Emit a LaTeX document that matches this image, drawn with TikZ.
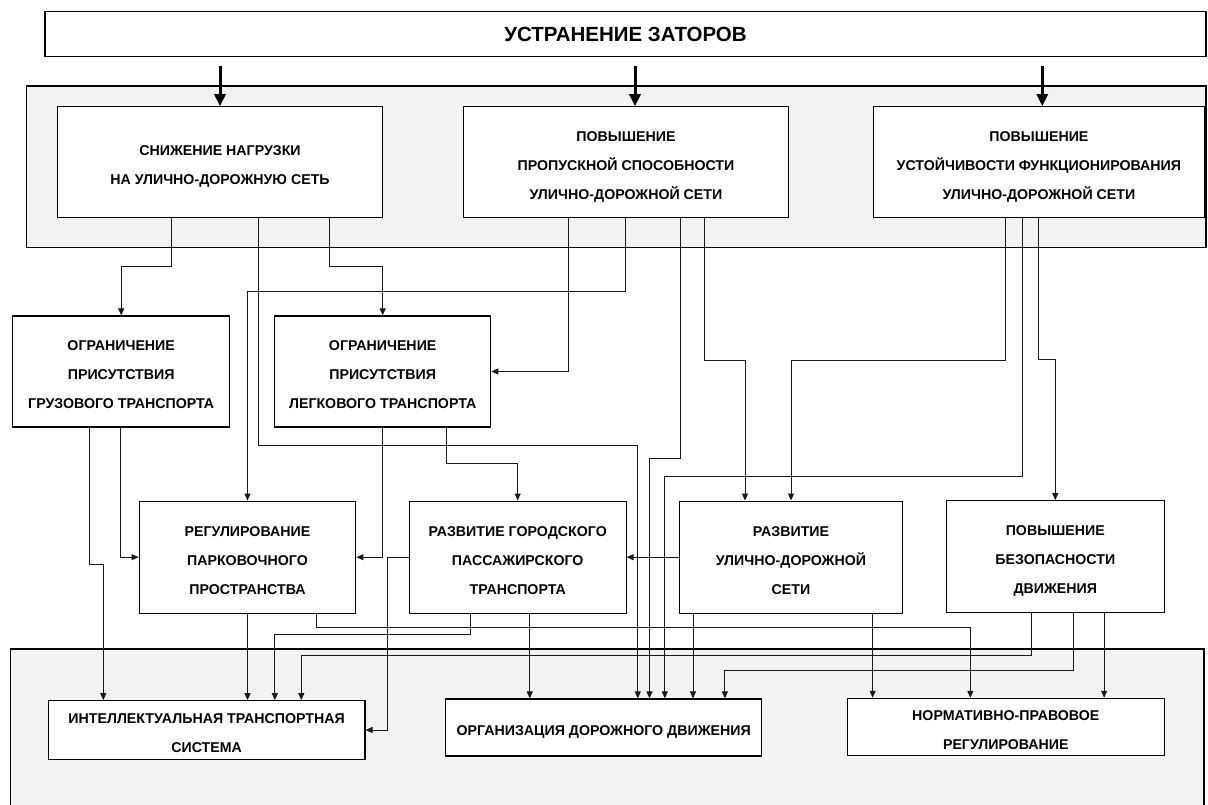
\documentclass[tikz,border=0pt]{standalone}
\usepackage{fontspec}
\setmainfont{Liberation Sans}
\usetikzlibrary{arrows.meta}
\newcommand{\btxt}[1]{\raisebox{-6pt}[0pt][0pt]{\begin{tabular}{@{}c@{}}#1\end{tabular}}}
\begin{document}
\begin{tikzpicture}[x=1pt,y=-1pt,
  box/.style={draw=black,line width=1.1pt,fill=white,inner sep=0pt,font=\bfseries\fontsize{14.2}{29}\selectfont},
  ln/.style={draw=black!90,line width=1pt},
  arr/.style={ln,-{Triangle[length=7pt,width=6pt]}},
  big/.style={line width=3pt,-{Triangle[length=12pt,width=11pt]}},
  panel/.style={draw=black,line width=1.1pt,fill=black!5}]
\useasboundingbox (0,0) rectangle (1208,805);
\clip (0,0) rectangle (1208,805);
\fill[white] (0,0) rectangle (1208,805);
\draw[panel] (26.7,86) rectangle (1206,247.7);
\draw[panel] (10.5,649) rectangle (1204,815);

\node[box,minimum width=1161pt,minimum height=45pt,font=\bfseries\fontsize{20.5}{24}\selectfont] (title) at (625.5,34.2) {УСТРАНЕНИЕ ЗАТОРОВ};

\node[box,minimum width=324.6pt,minimum height=111pt] (b1) at (220,162.2) {\btxt{СНИЖЕНИЕ НАГРУЗКИ\\НА УЛИЧНО-ДОРОЖНУЮ СЕТЬ}};
\node[box,minimum width=324.6pt,minimum height=111pt] (b2) at (626,162.2) {\btxt{ПОВЫШЕНИЕ\\ПРОПУСКНОЙ СПОСОБНОСТИ\\УЛИЧНО-ДОРОЖНОЙ СЕТИ}};
\node[box,minimum width=330.3pt,minimum height=111pt] (b3) at (1038.9,162.2) {\btxt{ПОВЫШЕНИЕ\\УСТОЙЧИВОСТИ ФУНКЦИОНИРОВАНИЯ\\УЛИЧНО-ДОРОЖНОЙ СЕТИ}};

\node[box,minimum width=217pt,minimum height=111pt] (og) at (121.2,371.5) {\btxt{ОГРАНИЧЕНИЕ\\ПРИСУТСТВИЯ\\ГРУЗОВОГО ТРАНСПОРТА}};
\node[box,minimum width=216pt,minimum height=111pt] (ol) at (382.7,371.5) {\btxt{ОГРАНИЧЕНИЕ\\ПРИСУТСТВИЯ\\ЛЕГКОВОГО ТРАНСПОРТА}};

\node[box,minimum width=216.7pt,minimum height=112.3pt] (rp) at (247.5,557.2) {\btxt{РЕГУЛИРОВАНИЕ\\ПАРКОВОЧНОГО\\ПРОСТРАНСТВА}};
\node[box,minimum width=216.7pt,minimum height=112.3pt] (rg) at (517.7,557.2) {\btxt{РАЗВИТИЕ ГОРОДСКОГО\\ПАССАЖИРСКОГО\\ТРАНСПОРТА}};
\node[box,minimum width=222.9pt,minimum height=112.3pt] (ru) at (791,557.2) {\btxt{РАЗВИТИЕ\\УЛИЧНО-ДОРОЖНОЙ\\СЕТИ}};
\node[box,minimum width=217.9pt,minimum height=112pt] (pb) at (1055.3,556.7) {\btxt{ПОВЫШЕНИЕ\\БЕЗОПАСНОСТИ\\ДВИЖЕНИЯ}};

\node[box,minimum width=316.8pt,minimum height=58.6pt] (its) at (206.6,730) {\btxt{ИНТЕЛЛЕКТУАЛЬНАЯ ТРАНСПОРТНАЯ\\СИСТЕМА}};
\node[box,minimum width=316.1pt,minimum height=57pt] (org) at (603.7,727.5) {\btxt{ОРГАНИЗАЦИЯ ДОРОЖНОГО ДВИЖЕНИЯ}};
\node[box,minimum width=316.8pt,minimum height=57pt] (norm) at (1005.8,726.8) {\btxt{НОРМАТИВНО-ПРАВОВОЕ\\РЕГУЛИРОВАНИЕ}};

% thick arrows from the title
\coordinate (t1) at (220,66);
\coordinate (t2) at (635,66);
\coordinate (t3) at (1042.3,66);
\draw[big] (t1) -- (t1 |- b1.north);
\draw[big] (t2) -- (t2 |- b2.north);
\draw[big] (t3) -- (t3 |- b3.north);

% connectors
\draw[arr] (b1.south -| 171.3,0) -- (171.3,266.7) -| (og.north);
\draw[arr] (b1.south -| 329,0) -- (329,266.7) -| (ol.north);
\draw[arr] (b1.south -| 258.7,0) -- (258.7,445) -| (org.north -| 637.8,0);
\draw[arr] (b2.south -| 625.7,0) -- (625.7,291.7) -| (rp.north);
\draw[arr] (b2.south -| 568,0) |- (ol.east);
\draw[arr] (b2.south -| 680,0) -- (680,458.3) -| (org.north -| 649.5,0);
\draw[arr] (b2.south -| 704,0) -- (704,360) -| (ru.north -| 745,0);
\draw[arr] (b3.south -| 1005.7,0) -- (1005.7,360) -| (ru.north);
\draw[arr] (b3.south -| 1022.7,0) -- (1022.7,476.7) -| (org.north -| 664.8,0);
\draw[arr] (b3.south -| 1038.5,0) -- (1038.5,359.3) -| (pb.north);
\draw[arr] (og.south -| 89.5,0) -- (89.5,564.3) -| (its.north -| 103.3,0);
\draw[arr] (og.south -| 120.7,0) |- (rp.west);
\draw[arr] (ol.south) |- (rp.east);
\draw[arr] (ol.south -| 446,0) -- (446,463.3) -| (rg.north);
\draw[arr] (rp.south) -- (its.north -| rp.south);
\draw[arr] (rp.south -| 316.3,0) -- (316.3,627) -| (norm.north -| 970.3,0);
\draw[arr] (rg.south -| 470.5,0) -- (470.5,634.3) -| (its.north -| 274.8,0);
\draw[arr] (rg.south -| 529.8,0) -- (org.north -| 529.8,0);
\draw[arr] (rg.west) -- (387.5,557.2) |- (its.east);
\draw[arr] (ru.west) -- (rg.east);
\draw[arr] (ru.south -| 693,0) -- (org.north -| 693,0);
\draw[arr] (ru.south -| 872.6,0) -- (norm.north -| 872.6,0);
\draw[arr] (pb.south -| 1031,0) -- (1031,655) -| (its.north -| 301.3,0);
\draw[arr] (pb.south -| 1073.8,0) -- (1073.8,670.7) -| (org.north -| 724.9,0);
\draw[arr] (pb.south -| 1104.1,0) -- (norm.north -| 1104.1,0);
\end{tikzpicture}
\end{document}
